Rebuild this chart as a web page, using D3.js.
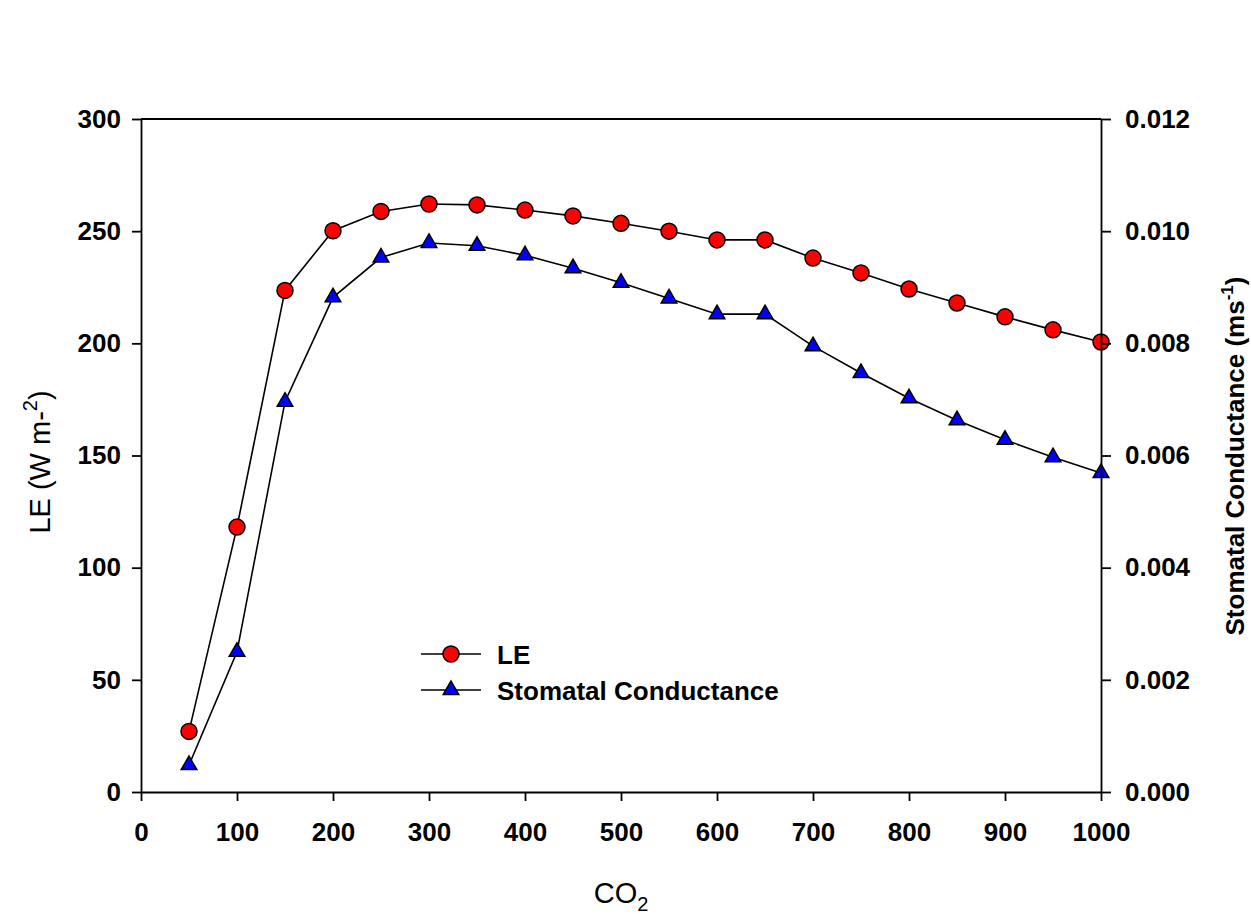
<!DOCTYPE html>
<html>
<head>
<meta charset="utf-8">
<script src="https://cdn.jsdelivr.net/npm/d3@7"></script>
<style>
  body { margin: 0; background: #fff; }
  svg text { font-family: "Liberation Sans", Arial, sans-serif; }
</style>
</head>
<body>
<svg id="chart" width="1251" height="914"></svg>
<script>
// data
const co2 = [50, 100, 150, 200, 250, 300, 350, 400, 450, 500, 550, 600, 650, 700, 750, 800, 850, 900, 950, 1000];
const le = [27.0, 118.1, 223.6, 250.2, 258.8, 262.1, 261.7, 259.4, 256.8, 253.5, 250.0, 246.1, 246.1, 238.0, 231.4, 224.2, 218.0, 211.8, 206.0, 200.6];
const conductance = [0.00048, 0.00250, 0.00696, 0.00882, 0.00953, 0.00979, 0.00974, 0.00957, 0.00934, 0.00908, 0.00880, 0.00852, 0.00852, 0.00795, 0.00747, 0.00702, 0.00663, 0.00628, 0.00597, 0.00569];

const xTicks = d3.range(0, 1001, 100);
const leTicks = d3.range(0, 301, 50);
const gTicks = [0, 0.002, 0.004, 0.006, 0.008, 0.010, 0.012];

const svg = d3.select("#chart");
// plot frame edges, in pixels
const plotLeft = 141, plotRight = 1101, plotTop = 119, plotBottom = 792;

const x = d3.scaleLinear().domain([0, 1000]).range([plotLeft, plotRight]);
const yLE = d3.scaleLinear().domain([0, 300]).range([plotBottom, plotTop]);
const yG = d3.scaleLinear().domain([0, 0.012]).range([plotBottom, plotTop]);

// series lines
const lineLE = d3.line().x((d, i) => x(co2[i])).y(d => yLE(d));
const lineG = d3.line().x((d, i) => x(co2[i])).y(d => yG(d));

svg.append("path").attr("d", lineLE(le)).attr("fill", "none").attr("stroke", "#000").attr("stroke-width", 1.6);
svg.append("path").attr("d", lineG(conductance)).attr("fill", "none").attr("stroke", "#000").attr("stroke-width", 1.6);

const tri = d3.symbol().type(d3.symbolTriangle).size(105);

svg.append("g").selectAll("path")
  .data(conductance)
  .join("path")
  .attr("d", tri)
  .attr("transform", (d, i) => `translate(${x(co2[i])},${yG(d)})`)
  .attr("fill", "#0000ff").attr("stroke", "#000").attr("stroke-width", 1.5);

svg.append("g").selectAll("circle")
  .data(le)
  .join("circle")
  .attr("cx", (d, i) => x(co2[i]))
  .attr("cy", d => yLE(d))
  .attr("r", 8)
  .attr("fill", "#ff0000").attr("stroke", "#000").attr("stroke-width", 1.5);

// axes (drawn over the markers, as in the original)
function styleAxis(g) {
  g.selectAll("path").attr("stroke", "#000").attr("stroke-width", 1.8);
  g.selectAll("line").attr("stroke", "#000").attr("stroke-width", 1.8);
  g.selectAll("text").attr("font-size", 26).attr("font-weight", "bold").attr("fill", "#000");
}

svg.append("g")
  .attr("transform", `translate(0,${plotBottom})`)
  .call(d3.axisBottom(x).tickValues(xTicks).tickFormat(d3.format("d")).tickSize(9).tickSizeOuter(0).tickPadding(22))
  .call(styleAxis);

svg.append("g")
  .attr("transform", `translate(${plotLeft},0)`)
  .call(d3.axisLeft(yLE).tickValues(leTicks).tickFormat(d3.format("d")).tickSize(9).tickSizeOuter(0).tickPadding(11))
  .call(styleAxis);

svg.append("g")
  .attr("transform", `translate(${plotRight},0)`)
  .call(d3.axisRight(yG).tickValues(gTicks).tickFormat(d3.format(".3f")).tickSize(10).tickSizeOuter(0).tickPadding(14))
  .call(styleAxis);

// top frame line
svg.append("line")
  .attr("x1", plotLeft).attr("x2", plotRight).attr("y1", plotTop).attr("y2", plotTop)
  .attr("stroke", "#000").attr("stroke-width", 1.8);

// axis titles
const xTitle = svg.append("text")
  .attr("x", 621).attr("y", 903)
  .attr("text-anchor", "middle").attr("font-size", 29);
xTitle.append("tspan").text("CO");
xTitle.append("tspan").attr("font-size", 20).attr("dy", 8).text("2");

const yTitle = svg.append("text")
  .attr("transform", "translate(50,462) rotate(-90)")
  .attr("text-anchor", "middle").attr("font-size", 29);
yTitle.append("tspan").text("LE (W m-");
yTitle.append("tspan").attr("font-size", 20).attr("dy", -13).text("2");
yTitle.append("tspan").attr("dy", 13).text(")");

const rTitle = svg.append("text")
  .attr("transform", "translate(1244,456) rotate(-90)")
  .attr("text-anchor", "middle").attr("font-size", 26).attr("font-weight", "bold");
rTitle.append("tspan").text("Stomatal Conductance (ms");
rTitle.append("tspan").attr("font-size", 17).attr("dy", -11).text("-1");
rTitle.append("tspan").attr("dy", 11).text(")");

// legend
const legendItems = ["LE", "Stomatal Conductance"];
const legend = svg.append("g").attr("transform", "translate(421,654)");
legendItems.forEach((name, i) => {
  const g = legend.append("g").attr("transform", `translate(0,${i * 36})`);
  g.append("line").attr("x1", 0).attr("x2", 60).attr("stroke", "#000").attr("stroke-width", 1.6);
  if (i === 0) {
    g.append("circle").attr("cx", 30).attr("r", 8)
      .attr("fill", "#ff0000").attr("stroke", "#000").attr("stroke-width", 1.5);
  } else {
    g.append("path").attr("d", tri).attr("transform", "translate(30,0)")
      .attr("fill", "#0000ff").attr("stroke", "#000").attr("stroke-width", 1.5);
  }
  g.append("text").attr("x", 76).attr("y", 10)
    .attr("font-size", 26).attr("font-weight", "bold").text(name);
});
</script>
</body>
</html>
